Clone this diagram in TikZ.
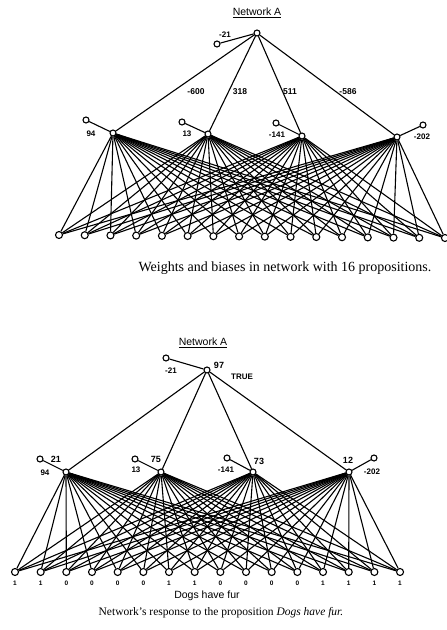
\documentclass[tikz,border=0pt]{standalone}
\usepackage{fontspec}
\setmainfont{Liberation Serif}
\setsansfont{Liberation Sans}
\begin{document}
\begin{tikzpicture}[x=1pt,y=-1pt,
  unit/.style={circle,draw,fill=white,inner sep=0pt,minimum size=6pt,line width=1.1pt},
  inunit/.style={unit,minimum size=7pt},
  conn/.style={line width=1.1pt},
  lbl/.style={font=\sffamily\bfseries\fontsize{8}{9}\selectfont,inner sep=0pt},
  vlbl/.style={font=\sffamily\bfseries\fontsize{6.5}{7}\selectfont,inner sep=0pt},
  ttl/.style={font=\sffamily\fontsize{10.5}{12}\selectfont,inner sep=0pt},
  captext/.style={font=\rmfamily\fontsize{14}{16}\selectfont,inner sep=0pt}]
\useasboundingbox (0,0) rectangle (447,630);

% ---------------- Top network ----------------
\node[ttl] (ttitle) at (257,13) {\underline{Network A}};
\node[unit] (to) at (257,33) {};
\node[unit] (tob) at (217,44) {};
\node[lbl] (tobl) at (225,35) {-21};
\draw[conn] (to) -- (tob);

\foreach \n/\x/\y/\bx/\by/\lx/\ly/\bl in {
  1/113/133/86/120/91/134/94,
  2/208/134/182/122/187/134/13,
  3/302/136/276/123/277/135/-141,
  4/397/137/423/125/422/137/-202}{
  \node[unit] (th\n) at (\x,\y) {};
  \node[unit] (tb\n) at (\bx,\by) {};
  \node[lbl] (tbl\n) at (\lx,\ly) {\bl};
  \draw[conn] (th\n) -- (tb\n);
  \draw[conn] (to) -- (th\n);
}
\foreach \w/\x in {-600/196,318/240,511/290,-586/348}
  \node[lbl,font=\sffamily\bfseries\fontsize{8.5}{9}\selectfont] (tw\x) at (\x,92) {\w};

\foreach \i in {0,...,15}
  \node[inunit] (ti\i) at ({59+25.73*\i},{235+3*\i/15}) {};
\foreach \h in {1,...,4}
  \foreach \i in {0,...,15}
    \draw[conn] (th\h) -- (ti\i);

\node[captext] (tcap) at (285,268) {Weights and biases in network with 16 propositions.};

% ---------------- Bottom network ----------------
\node[ttl] (btitle) at (203,343) {\underline{Network A}};
\node[unit] (bo) at (207,370) {};
\node[unit] (bob) at (166,358) {};
\node[lbl] (bobl) at (171,371) {-21};
\node[lbl,font=\sffamily\bfseries\fontsize{9}{10}\selectfont] (boa) at (219,365) {97};
\node[lbl] (btrue) at (242,377) {TRUE};
\draw[conn] (bo) -- (bob);

\foreach \n/\x/\y/\bx/\by/\lx/\ly/\bl/\ax/\ay/\al in {
  1/66/472/40/459/45/473/94/56/459/21,
  2/161/472/135/459/136/470/13/156/459/75,
  3/253/472/227/458/226/470/-141/259/461/73,
  4/349/472/374/458/372/472/-202/348/460/12}{
  \node[unit] (bh\n) at (\x,\y) {};
  \node[unit] (bb\n) at (\bx,\by) {};
  \node[lbl] (bbl\n) at (\lx,\ly) {\bl};
  \node[lbl,font=\sffamily\bfseries\fontsize{9}{10}\selectfont] (bal\n) at (\ax,\ay) {\al};
  \draw[conn] (bh\n) -- (bb\n);
  \draw[conn] (bo) -- (bh\n);
}

\foreach \v [count=\c from 0] in {1,1,0,0,0,0,1,1,0,0,0,0,1,1,1,1}{
  \node[inunit] (bi\c) at ({15+25.67*\c},572) {};
  \node[vlbl] (bv\c) at ({15+25.67*\c},583) {\v};
}
\foreach \h in {1,...,4}
  \foreach \i in {0,...,15}
    \draw[conn] (bh\h) -- (bi\i);

\node[font=\sffamily\fontsize{10.5}{12}\selectfont,inner sep=0pt] (bdogs) at (207,596) {Dogs have fur};

\node[captext,font=\rmfamily\fontsize{11.5}{13}\selectfont] (bcap) at (221,613) {Network's response to the proposition \textit{Dogs have fur.}};
\end{tikzpicture}
\end{document}
